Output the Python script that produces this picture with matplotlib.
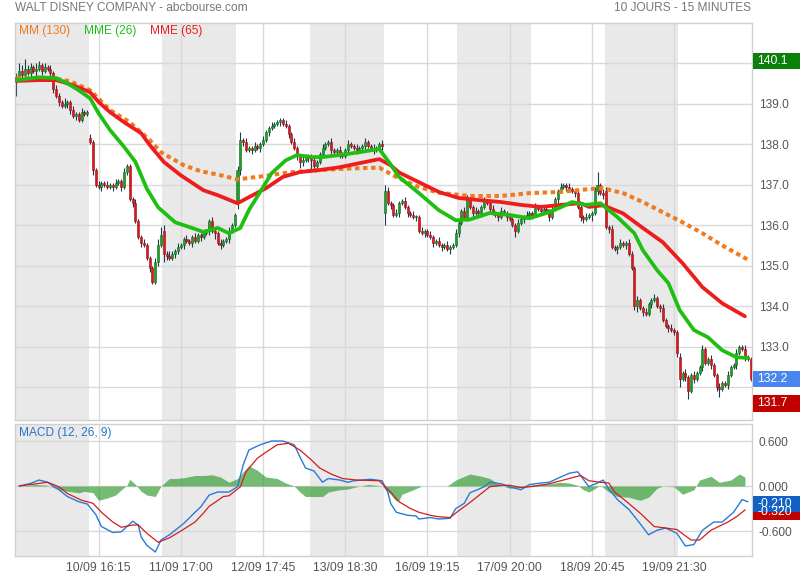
import matplotlib
matplotlib.use('Agg')
import matplotlib.pyplot as plt
import matplotlib.transforms as mtransforms
from matplotlib.patches import Rectangle
import numpy as np

plt.rcParams['font.family'] = ['Liberation Sans', 'DejaVu Sans']

# ---------------- data ----------------
title_left = 'WALT DISNEY COMPANY - abcbourse.com'
title_right = '10 JOURS - 15 MINUTES'
tick_bars = [29, 58, 87, 116, 145, 174, 203, 232]
tick_labels = ['10/09 16:15', '11/09 17:00', '12/09 17:45', '13/09 18:30',
               '16/09 19:15', '17/09 20:00', '18/09 20:45', '19/09 21:30']
price_ticks = [132, 133, 134, 135, 136, 137, 138, 139, 140]
macd_ticks = [-0.6, 0.0, 0.6]

# OHLC per day (26 bars of 15 min each)
o0 = [139.6, 139.65, 139.8, 139.7, 139.85, 139.75, 139.9, 139.8, 139.85, 139.95, 139.8, 139.9, 139.85, 139.75, 139.35, 139.2, 139.05, 138.95, 139.0, 139.05, 138.85, 138.7, 138.75, 138.6, 138.8, 138.75]
c0 = [139.65, 139.8, 139.7, 139.85, 139.75, 139.9, 139.8, 139.85, 139.95, 139.8, 139.9, 139.85, 139.75, 139.35, 139.2, 139.05, 138.95, 139.0, 139.05, 138.85, 138.7, 138.75, 138.6, 138.8, 138.75, 138.8]
o1 = [138.15, 138.05, 137.35, 137.0, 136.95, 137.05, 137.0, 136.95, 137.0, 136.95, 137.05, 137.1, 136.95, 137.3, 137.45, 136.65, 136.55, 136.1, 135.7, 135.55, 135.5, 135.2, 134.95, 134.6, 135.1, 135.5]
c1 = [138.05, 137.35, 137.0, 136.95, 137.05, 137.0, 136.95, 137.0, 136.95, 137.05, 137.1, 136.95, 137.3, 137.45, 136.65, 136.55, 136.1, 135.7, 135.55, 135.5, 135.2, 134.95, 134.6, 135.1, 135.5, 135.75]
o2 = [135.85, 135.3, 135.25, 135.2, 135.3, 135.35, 135.45, 135.5, 135.65, 135.6, 135.55, 135.7, 135.6, 135.75, 135.7, 135.8, 135.85, 136.1, 135.85, 135.8, 135.55, 135.5, 135.6, 135.65, 135.85, 136.0]
c2 = [135.3, 135.25, 135.2, 135.3, 135.35, 135.45, 135.5, 135.65, 135.6, 135.55, 135.7, 135.6, 135.75, 135.7, 135.8, 135.85, 136.1, 135.85, 135.8, 135.55, 135.5, 135.6, 135.65, 135.85, 136.0, 136.25]
o3 = [136.55, 137.35, 138.1, 138.05, 137.85, 137.9, 137.85, 137.95, 137.9, 138.0, 138.1, 138.3, 138.4, 138.45, 138.5, 138.55, 138.6, 138.5, 138.45, 138.25, 138.05, 137.9, 137.7, 137.55, 137.6, 137.7]
c3 = [137.35, 138.1, 138.05, 137.85, 137.9, 137.85, 137.95, 137.9, 138.0, 138.1, 138.3, 138.4, 138.45, 138.5, 138.55, 138.6, 138.5, 138.45, 138.25, 138.05, 137.9, 137.7, 137.55, 137.6, 137.7, 137.65]
o4 = [137.7, 137.6, 137.45, 137.55, 137.75, 137.9, 138.0, 138.05, 137.85, 137.8, 137.85, 137.75, 137.7, 137.85, 138.0, 137.95, 137.9, 137.85, 137.9, 137.95, 138.05, 137.95, 137.9, 137.85, 137.9, 138.0]
c4 = [137.6, 137.45, 137.55, 137.75, 137.9, 138.0, 138.05, 137.85, 137.8, 137.85, 137.75, 137.7, 137.85, 138.0, 137.95, 137.9, 137.85, 137.9, 137.95, 138.05, 137.95, 137.9, 137.85, 137.9, 138.0, 137.95]
o5 = [136.3, 136.85, 136.55, 136.5, 136.25, 136.3, 136.55, 136.6, 136.45, 136.3, 136.25, 136.2, 136.2, 135.85, 135.8, 135.85, 135.75, 135.7, 135.55, 135.6, 135.5, 135.45, 135.5, 135.4, 135.45, 135.5]
c5 = [136.85, 136.55, 136.5, 136.25, 136.3, 136.55, 136.6, 136.45, 136.3, 136.25, 136.2, 136.2, 135.85, 135.8, 135.85, 135.75, 135.7, 135.55, 135.6, 135.5, 135.45, 135.5, 135.4, 135.45, 135.5, 135.8]
o6 = [135.8, 136.05, 136.35, 136.2, 136.65, 136.45, 136.3, 136.35, 136.3, 136.45, 136.6, 136.55, 136.4, 136.3, 136.25, 136.2, 136.35, 136.3, 136.2, 136.15, 136.0, 135.85, 136.05, 136.15, 136.2, 136.25]
c6 = [136.05, 136.35, 136.2, 136.65, 136.45, 136.3, 136.35, 136.3, 136.45, 136.6, 136.55, 136.4, 136.3, 136.25, 136.2, 136.35, 136.3, 136.2, 136.15, 136.0, 135.85, 136.05, 136.15, 136.2, 136.25, 136.3]
o7 = [136.3, 136.25, 136.45, 136.4, 136.35, 136.4, 136.35, 136.2, 136.4, 136.65, 136.85, 136.95, 137.0, 136.95, 136.88, 136.85, 136.8, 136.45, 136.2, 136.15, 136.2, 136.25, 136.3, 136.85, 137.0, 136.8]
c7 = [136.25, 136.45, 136.4, 136.35, 136.4, 136.35, 136.2, 136.4, 136.65, 136.85, 136.95, 137.0, 136.95, 136.88, 136.85, 136.8, 136.45, 136.2, 136.15, 136.2, 136.25, 136.3, 136.85, 137.0, 136.8, 136.75]
o8 = [136.85, 135.95, 135.9, 135.45, 135.4, 135.45, 135.55, 135.5, 135.55, 135.3, 134.95, 134.0, 134.15, 133.95, 133.85, 133.8, 134.05, 134.15, 134.2, 134.0, 133.95, 133.65, 133.5, 133.45, 133.4, 133.35]
c8 = [135.95, 135.9, 135.45, 135.4, 135.45, 135.55, 135.5, 135.55, 135.3, 134.95, 134.0, 134.15, 133.95, 133.85, 133.8, 134.05, 134.15, 134.2, 134.0, 133.95, 133.65, 133.5, 133.45, 133.4, 133.35, 132.85]
o9 = [132.75, 132.2, 132.35, 132.25, 131.9, 132.3, 132.2, 132.35, 132.5, 132.95, 132.6, 132.7, 132.55, 132.3, 132.0, 131.95, 132.1, 132.05, 132.3, 132.5, 132.55, 132.85, 133.0, 132.95, 132.75, 132.7]
c9 = [132.2, 132.35, 132.25, 131.9, 132.3, 132.2, 132.35, 132.5, 132.95, 132.6, 132.7, 132.55, 132.3, 132.0, 131.95, 132.1, 132.05, 132.3, 132.5, 132.55, 132.85, 133.0, 132.95, 132.75, 132.7, 132.2]

# wick lengths above / below body
u0 = [0.1, 0.2, 0.15, 0.25, 0.1, 0.1, 0.05, 0.15, 0.1, 0.05, 0.1, 0.05, 0.1, 0.05, 0.1, 0.05, 0.05, 0.15, 0.05, 0.05, 0.1, 0.05, 0.05, 0.1, 0.05, 0.05]
d0 = [0.4, 0.05, 0.1, 0.05, 0.05, 0.1, 0.05, 0.15, 0.05, 0.1, 0.05, 0.05, 0.1, 0.1, 0.05, 0.1, 0.05, 0.05, 0.1, 0.1, 0.05, 0.1, 0.05, 0.05, 0.05, 0.05]
u1 = [0.1, 0.05, 0.05, 0.1, 0.05, 0.05, 0.1, 0.05, 0.05, 0.1, 0.05, 0.05, 0.1, 0.05, 0.05, 0.05, 0.1, 0.05, 0.05, 0.1, 0.05, 0.05, 0.05, 0.1, 0.15, 0.2]
d1 = [0.05, 0.1, 0.05, 0.05, 0.1, 0.05, 0.05, 0.05, 0.1, 0.05, 0.05, 0.1, 0.05, 0.05, 0.05, 0.1, 0.05, 0.05, 0.1, 0.05, 0.05, 0.1, 0.05, 0.05, 0.1, 0.05]
u2 = [0.15, 0.05, 0.1, 0.05, 0.05, 0.1, 0.05, 0.05, 0.1, 0.05, 0.05, 0.1, 0.05, 0.05, 0.1, 0.05, 0.05, 0.1, 0.05, 0.05, 0.1, 0.05, 0.05, 0.1, 0.05, 0.05]
d2 = [0.2, 0.1, 0.05, 0.05, 0.1, 0.05, 0.05, 0.1, 0.05, 0.05, 0.1, 0.05, 0.05, 0.1, 0.05, 0.05, 0.1, 0.05, 0.15, 0.05, 0.1, 0.05, 0.05, 0.1, 0.05, 0.05]
u3 = [0.1, 0.2, 0.05, 0.1, 0.05, 0.05, 0.1, 0.05, 0.05, 0.1, 0.05, 0.05, 0.1, 0.05, 0.05, 0.05, 0.05, 0.1, 0.05, 0.05, 0.1, 0.05, 0.05, 0.1, 0.05, 0.05]
d3 = [0.15, 0.1, 0.1, 0.05, 0.05, 0.1, 0.05, 0.05, 0.1, 0.05, 0.05, 0.1, 0.05, 0.05, 0.05, 0.1, 0.05, 0.05, 0.1, 0.05, 0.05, 0.1, 0.15, 0.1, 0.05, 0.1]
u4 = [0.05, 0.1, 0.05, 0.05, 0.1, 0.05, 0.05, 0.1, 0.05, 0.05, 0.1, 0.05, 0.05, 0.1, 0.05, 0.05, 0.1, 0.05, 0.05, 0.1, 0.05, 0.05, 0.1, 0.05, 0.05, 0.1]
d4 = [0.3, 0.1, 0.05, 0.05, 0.1, 0.05, 0.05, 0.1, 0.05, 0.05, 0.1, 0.05, 0.05, 0.1, 0.05, 0.05, 0.1, 0.05, 0.05, 0.1, 0.05, 0.05, 0.1, 0.05, 0.05, 0.1]
u5 = [0.15, 0.1, 0.05, 0.05, 0.1, 0.05, 0.05, 0.1, 0.05, 0.05, 0.1, 0.05, 0.05, 0.1, 0.05, 0.05, 0.1, 0.05, 0.05, 0.1, 0.05, 0.05, 0.1, 0.05, 0.05, 0.1]
d5 = [0.3, 0.05, 0.1, 0.05, 0.05, 0.1, 0.05, 0.05, 0.1, 0.05, 0.05, 0.1, 0.05, 0.05, 0.1, 0.05, 0.05, 0.1, 0.05, 0.05, 0.1, 0.05, 0.05, 0.1, 0.05, 0.05]
u6 = [0.1, 0.05, 0.1, 0.1, 0.05, 0.05, 0.1, 0.05, 0.05, 0.1, 0.05, 0.05, 0.1, 0.05, 0.05, 0.1, 0.05, 0.05, 0.1, 0.05, 0.05, 0.1, 0.05, 0.05, 0.1, 0.05]
d6 = [0.1, 0.05, 0.05, 0.1, 0.05, 0.1, 0.05, 0.05, 0.1, 0.05, 0.05, 0.1, 0.05, 0.05, 0.1, 0.05, 0.05, 0.1, 0.05, 0.05, 0.15, 0.05, 0.05, 0.1, 0.05, 0.05]
u7 = [0.05, 0.1, 0.05, 0.05, 0.1, 0.05, 0.05, 0.1, 0.05, 0.05, 0.1, 0.05, 0.05, 0.1, 0.05, 0.05, 0.1, 0.05, 0.05, 0.1, 0.05, 0.05, 0.1, 0.3, 0.05, 0.1]
d7 = [0.1, 0.05, 0.05, 0.1, 0.05, 0.05, 0.1, 0.05, 0.05, 0.1, 0.05, 0.05, 0.1, 0.05, 0.05, 0.1, 0.05, 0.1, 0.1, 0.05, 0.05, 0.15, 0.05, 0.1, 0.05, 0.1]
u8 = [0.1, 0.05, 0.1, 0.05, 0.05, 0.1, 0.05, 0.05, 0.1, 0.05, 0.05, 0.1, 0.05, 0.05, 0.1, 0.05, 0.05, 0.1, 0.05, 0.05, 0.1, 0.05, 0.05, 0.1, 0.05, 0.05]
d8 = [0.05, 0.1, 0.05, 0.05, 0.1, 0.05, 0.05, 0.1, 0.05, 0.05, 0.1, 0.15, 0.05, 0.1, 0.05, 0.05, 0.1, 0.05, 0.05, 0.1, 0.05, 0.05, 0.1, 0.05, 0.05, 0.1]
u9 = [0.1, 0.05, 0.1, 0.05, 0.05, 0.1, 0.05, 0.05, 0.1, 0.05, 0.05, 0.1, 0.05, 0.05, 0.1, 0.05, 0.05, 0.1, 0.05, 0.05, 0.1, 0.05, 0.05, 0.1, 0.05, 0.05]
d9 = [0.2, 0.05, 0.1, 0.2, 0.05, 0.1, 0.05, 0.05, 0.1, 0.05, 0.05, 0.1, 0.05, 0.1, 0.2, 0.05, 0.05, 0.1, 0.05, 0.05, 0.1, 0.05, 0.05, 0.1, 0.05, 0.05]

# moving averages (bar index, value)
mm130_x = [0, 13, 19, 26, 33, 40, 47, 51, 59, 65, 71, 78, 86, 96, 107, 118, 128, 135, 142, 149, 160, 171, 181, 192, 202, 207, 214, 221, 228, 235, 242, 249, 258]
mm130_y = [139.63, 139.63, 139.55, 139.33, 138.84, 138.54, 138.1, 137.8, 137.48, 137.33, 137.25, 137.13, 137.2, 137.3, 137.36, 137.4, 137.42, 137.15, 136.94, 136.8, 136.72, 136.72, 136.79, 136.82, 136.89, 136.91, 136.79, 136.57, 136.32, 136.07, 135.8, 135.5, 135.15]
mme26_x = [0, 8, 14, 18, 22, 26, 29, 33, 38, 42, 46, 50, 56, 62, 66, 71, 75, 79, 82, 86, 90, 95, 99, 104, 108, 114, 121, 128, 132, 135, 142, 149, 155, 160, 167, 174, 181, 187, 192, 196, 201, 206, 212, 218, 221, 226, 230, 234, 239, 244, 249, 254, 258]
mme26_y = [139.58, 139.65, 139.63, 139.5, 139.33, 139.13, 138.76, 138.35, 137.93, 137.56, 136.9, 136.44, 136.07, 135.93, 135.83, 135.93, 135.8, 135.93, 136.37, 136.82, 137.28, 137.6, 137.73, 137.68, 137.68, 137.73, 137.8, 137.88, 137.5, 137.19, 136.79, 136.37, 136.12, 136.14, 136.3, 136.25, 136.17, 136.3, 136.44, 136.57, 136.5, 136.54, 136.2, 135.8, 135.38, 134.89, 134.57, 133.9, 133.41, 133.23, 132.91, 132.74, 132.72]
mme65_x = [0, 8, 14, 18, 22, 26, 29, 33, 38, 44, 47, 52, 58, 66, 71, 78, 82, 88, 94, 100, 107, 114, 121, 128, 132, 135, 142, 149, 156, 163, 171, 178, 185, 192, 199, 202, 207, 214, 221, 228, 235, 242, 249, 257]
mme65_y = [139.56, 139.58, 139.58, 139.5, 139.4, 139.28, 139.04, 138.79, 138.54, 138.27, 137.98, 137.56, 137.23, 136.86, 136.74, 136.54, 136.69, 136.91, 137.19, 137.31, 137.36, 137.43, 137.53, 137.63, 137.48, 137.3, 137.06, 136.82, 136.67, 136.62, 136.57, 136.5, 136.45, 136.5, 136.54, 136.45, 136.49, 136.29, 135.93, 135.58, 135.06, 134.47, 134.07, 133.75]

# MACD (12, 26, 9)
macd_x = [1, 5, 8, 11, 15, 18, 22, 25, 28, 30, 34, 37, 39, 41, 43, 44, 46, 49, 51, 54, 56, 59, 63, 65, 68, 71, 75, 78, 80, 82, 86, 90, 94, 98, 100, 102, 105, 108, 110, 114, 117, 119, 125, 129, 131, 132, 134, 135, 138, 141, 142, 146, 149, 153, 155, 158, 160, 162, 165, 167, 171, 174, 178, 181, 185, 188, 192, 195, 198, 200, 202, 203, 205, 207, 209, 212, 216, 220, 223, 226, 229, 233, 236, 239, 242, 246, 249, 253, 256, 258]
macd_y = [0.0, 0.035, 0.08, 0.05, -0.05, -0.14, -0.21, -0.24, -0.38, -0.54, -0.62, -0.61, -0.54, -0.47, -0.52, -0.68, -0.79, -0.88, -0.72, -0.65, -0.59, -0.5, -0.35, -0.28, -0.12, -0.08, -0.08, -0.01, 0.28, 0.48, 0.55, 0.6, 0.6, 0.55, 0.39, 0.24, 0.2, 0.05, 0.1, 0.08, 0.05, 0.07, 0.09, 0.07, -0.08, -0.23, -0.35, -0.36, -0.39, -0.4, -0.44, -0.42, -0.44, -0.43, -0.3, -0.23, -0.09, -0.06, -0.01, 0.05, 0.03, -0.01, -0.05, 0.02, 0.04, 0.05, 0.12, 0.17, 0.19, 0.09, -0.01, 0.01, 0.04, 0.08, -0.04, -0.18, -0.31, -0.5, -0.65, -0.59, -0.56, -0.63, -0.8, -0.78, -0.59, -0.48, -0.48, -0.35, -0.18, -0.21]
signal_x = [1, 7, 11, 15, 18, 23, 27, 30, 34, 37, 41, 43, 46, 50, 54, 58, 63, 66, 68, 70, 73, 75, 79, 81, 85, 88, 92, 96, 100, 104, 107, 111, 115, 120, 128, 132, 135, 139, 142, 146, 149, 153, 156, 160, 164, 167, 171, 174, 178, 181, 185, 188, 192, 195, 199, 202, 206, 209, 211, 215, 220, 225, 229, 233, 238, 241, 245, 251, 254, 257]
signal_y = [0.0, 0.03, 0.05, -0.01, -0.1, -0.19, -0.23, -0.35, -0.48, -0.55, -0.52, -0.52, -0.63, -0.75, -0.69, -0.6, -0.48, -0.36, -0.27, -0.22, -0.14, -0.13, -0.01, 0.19, 0.37, 0.45, 0.55, 0.57, 0.48, 0.35, 0.24, 0.16, 0.1, 0.08, 0.07, -0.08, -0.21, -0.3, -0.35, -0.39, -0.41, -0.42, -0.33, -0.22, -0.1, -0.01, 0.01, 0.01, -0.02, -0.01, 0.01, 0.03, 0.07, 0.1, 0.14, 0.07, 0.05, 0.04, -0.08, -0.2, -0.36, -0.54, -0.56, -0.58, -0.72, -0.72, -0.59, -0.48, -0.41, -0.32]
hist_x = [1, 7, 11, 15, 18, 22, 24, 27, 29, 32, 35, 37, 39, 40, 42, 44, 46, 49, 51, 54, 56, 59, 63, 66, 69, 72, 75, 78, 80, 82, 85, 88, 92, 95, 98, 100, 102, 105, 108, 110, 114, 117, 120, 124, 127, 129, 131, 132, 133, 134, 135, 136, 140, 143, 152, 155, 160, 164, 167, 171, 174, 178, 181, 185, 188, 192, 195, 198, 200, 202, 206, 208, 209, 212, 216, 220, 223, 226, 228, 232, 235, 239, 241, 245, 248, 252, 255, 257]
hist_y = [0, 0.02, 0.01, -0.05, -0.07, -0.09, -0.07, -0.09, -0.19, -0.16, -0.12, -0.05, 0.01, 0.09, 0.02, -0.07, -0.12, -0.14, 0.0, 0.1, 0.1, 0.11, 0.14, 0.14, 0.15, 0.12, 0.05, 0.1, 0.19, 0.27, 0.21, 0.12, 0.1, 0.04, 0.0, -0.08, -0.14, -0.14, -0.14, -0.08, -0.05, -0.04, -0.01, 0.02, 0.01, 0.0, -0.08, -0.11, -0.16, -0.2, -0.19, -0.11, -0.05, 0.0, 0.0, 0.08, 0.16, 0.13, 0.1, 0.01, -0.03, -0.02, 0.01, 0.03, 0.03, 0.05, 0.04, 0.01, -0.05, -0.08, 0.01, -0.05, -0.08, -0.14, -0.15, -0.19, -0.15, -0.03, 0.0, -0.01, -0.11, -0.05, 0.08, 0.13, 0.05, 0.08, 0.16, 0.12]

box_high, box_last, box_low = 140.1, 132.2, 131.7
macd_last, signal_last = -0.210, -0.320

# ---------------- build ----------------
days_o = [o0, o1, o2, o3, o4, o5, o6, o7, o8, o9]
days_c = [c0, c1, c2, c3, c4, c5, c6, c7, c8, c9]
days_u = [u0, u1, u2, u3, u4, u5, u6, u7, u8, u9]
days_d = [d0, d1, d2, d3, d4, d5, d6, d7, d8, d9]
opens = np.array(sum(days_o, []))
closes = np.array(sum(days_c, []))
highs = np.maximum(opens, closes) + np.array(sum(days_u, []))
lows = np.minimum(opens, closes) - np.array(sum(days_d, []))
bars = np.arange(len(closes))
nday = len(c0)
ndays = len(days_c)

W, H = 800, 580
fig = plt.figure(figsize=(8, 5.8), dpi=100)
ax = fig.add_axes([15 / W, 1 - 420 / H, 737 / W, 397 / H])
axm = fig.add_axes([15 / W, 1 - 556 / H, 737 / W, 132 / H])

GRAY_BAND = '#e9e9e9'
GRID = '#d9d9d9'
TXT = '#555555'

for a in (ax, axm):
    a.set_xlim(-0.5, len(closes) - 0.5)
    for d in range(0, ndays, 2):
        a.axvspan(d * nday - 0.5, d * nday + nday - 0.5, color=GRAY_BAND, lw=0, zorder=0)
    a.set_axisbelow(True)
    a.set_xticks(tick_bars)
    a.grid(axis='both', color=GRID, lw=1.0)
    for s in a.spines.values():
        s.set_color('#d0d0d0')
        s.set_linewidth(1.0)
    a.yaxis.tick_right()
    a.tick_params(axis='both', length=0, labelsize=8.6, labelcolor=TXT)
    a.set_facecolor('white')

# candles
up = closes >= opens
body_lo = np.minimum(opens, closes)
body_h = np.maximum(np.abs(closes - opens), 0.025)
ax.vlines(bars, lows, highs, color='#1c3a55', lw=0.8, zorder=2)
ax.bar(bars, body_h, bottom=body_lo, width=0.72,
       color=np.where(up, '#1f9e2a', '#e0161b'),
       edgecolor=np.where(up, '#0d6a16', '#9a0d10'), lw=0.4, zorder=3)

ax.plot(mm130_x, mm130_y, color='#f07a1e', lw=2.9, linestyle=(0, (1.1, 0.9)),
        dash_capstyle='butt', zorder=4)
ax.plot(mme65_x, mme65_y, color='#ee1c1c', lw=2.7, zorder=5, solid_capstyle='round')
ax.plot(mme26_x, mme26_y, color='#1fbf12', lw=2.7, zorder=6, solid_capstyle='round')

ax.set_ylim(131.19, 140.99)
ax.set_yticks(price_ticks)
ax.set_yticklabels(['' if (v == price_ticks[0] or v == price_ticks[-1]) else f'{v:.1f}'
                    for v in price_ticks])
ax.tick_params(axis='y', pad=5)
ax.tick_params(axis='x', labelbottom=False)

ax.text(4 / 737, 0.98, 'MM (130)', transform=ax.transAxes, color='#f07a1e',
        fontsize=8.6, va='center', ha='left')
ax.text(69 / 737, 0.98, 'MME (26)', transform=ax.transAxes, color='#1fbf12',
        fontsize=8.6, va='center', ha='left')
ax.text(135 / 737, 0.98, 'MME (65)', transform=ax.transAxes, color='#ee1c1c',
        fontsize=8.6, va='center', ha='left')


def value_box(a, y, txt, fc, dy=0):
    base = mtransforms.blended_transform_factory(a.transAxes, a.transData)
    y0, y1 = a.get_ylim()
    ah = a.get_position().height * H
    hh = 16.5 / ah * (y1 - y0)
    rtr = mtransforms.offset_copy(base, fig=fig, x=1, y=dy, units='dots')
    a.add_patch(Rectangle((1.0, y - hh / 2), 48 / 737, hh, transform=rtr,
                          fc=fc, ec='none', clip_on=False, zorder=19))
    ttr = mtransforms.offset_copy(base, fig=fig, x=5, y=dy, units='dots')
    a.text(1.0, y, txt, transform=ttr, color='white', fontsize=8.8,
           va='center', ha='left', clip_on=False, zorder=20)


value_box(ax, box_high, f'{box_high:.1f}', '#0b800b', dy=-2)
value_box(ax, box_last, f'{box_last:.1f}', '#4a86f0', dy=0)
value_box(ax, box_low, f'{box_low:.1f}', '#c20000', dy=-4)

# MACD panel
axm.fill_between(hist_x, hist_y, 0, color='#339b33', alpha=0.68, lw=0, zorder=2)
axm.plot(macd_x, macd_y, color='#2a7ad6', lw=1.0, zorder=3)
axm.plot(signal_x, signal_y, color='#d01e1e', lw=0.9, zorder=4)
axm.set_ylim(-0.933, 0.827)
axm.set_yticks(macd_ticks)
axm.set_yticklabels([f'{v:.3f}' for v in macd_ticks])
axm.tick_params(axis='y', pad=5)
axm.set_xticklabels(tick_labels)
axm.tick_params(axis='x', pad=4, labelsize=8.7)
axm.text(4 / 737, 0.93, 'MACD (12, 26, 9)', transform=axm.transAxes, color='#2a72c8',
         fontsize=8.6, va='center', ha='left')
value_box(axm, signal_last, f'{signal_last:.3f}', '#c20000', dy=-2)
value_box(axm, macd_last, f'{macd_last:.3f}', '#1262c6', dy=-2)

fig.text(15 / W, 1 - 8 / H, title_left, color='#777777', fontsize=8.6, va='center', ha='left')
fig.text(751 / W, 1 - 8 / H, title_right, color='#777777', fontsize=8.6, va='center', ha='right')

fig.savefig('out.png', dpi=100)
